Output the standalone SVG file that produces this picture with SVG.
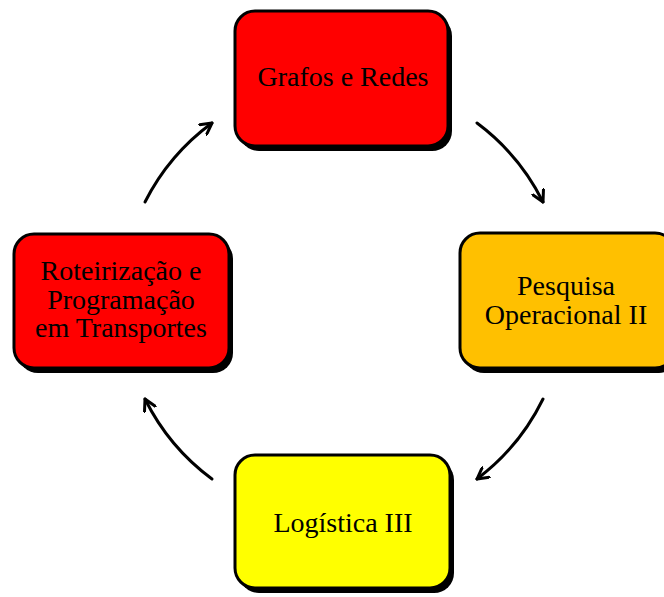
<svg xmlns="http://www.w3.org/2000/svg" width="664" height="597" viewBox="0 0 664 597">
  <style>
    .shadow { fill: #000; }
    .box { stroke: #000; stroke-width: 3; }
    .label { font-family: "Liberation Serif", "Times New Roman", serif; font-size: 28px; fill: #000; text-anchor: middle; }
    .arc { fill: none; stroke: #000; stroke-width: 3; stroke-linecap: round; }
  </style>
  <defs>
    <marker id="chevron" viewBox="0 0 14 14" refX="12" refY="7" markerWidth="14" markerHeight="14" markerUnits="userSpaceOnUse" orient="auto">
      <path d="M1,1 L12,7 L1,13" fill="none" stroke="#000" stroke-width="3" stroke-linecap="round" stroke-linejoin="round"/>
    </marker>
  </defs>

  <rect width="664" height="597" fill="#fff"/>

  <!-- connectors: arcs of one circle, running clockwise -->
  <g id="connectors">
    <path class="arc" d="M145,202 A222,222 0 0 1 212,123" marker-end="url(#chevron)"/>
    <path class="arc" d="M477,123 A222,222 0 0 1 543,202" marker-end="url(#chevron)"/>
    <path class="arc" d="M543,399 A222,222 0 0 1 477,479" marker-end="url(#chevron)"/>
    <path class="arc" d="M212,479 A222,222 0 0 1 145,399" marker-end="url(#chevron)"/>
  </g>

  <g id="grafos-redes">
    <rect class="shadow" x="239" y="16" width="213" height="135" rx="20"/>
    <rect class="box" x="235" y="11" width="213" height="135" rx="20" fill="#ff0000"/>
    <text class="label" x="343" y="86">Grafos e Redes</text>
  </g>

  <g id="pesquisa-operacional">
    <rect class="shadow" x="464" y="238" width="215" height="135" rx="20"/>
    <rect class="box" x="460" y="233" width="215" height="135" rx="20" fill="#ffc000"/>
    <text class="label" x="566" y="295">Pesquisa</text>
    <text class="label" x="566" y="324">Operacional II</text>
  </g>

  <g id="logistica">
    <rect class="shadow" x="239" y="460" width="215" height="133" rx="20"/>
    <rect class="box" x="235" y="455" width="215" height="133" rx="20" fill="#ffff00"/>
    <text class="label" x="343" y="532">Logística III</text>
  </g>

  <g id="roteirizacao">
    <rect class="shadow" x="18" y="239" width="215" height="134" rx="20"/>
    <rect class="box" x="14" y="234" width="215" height="134" rx="20" fill="#ff0000"/>
    <text class="label" x="121" y="280">Roteirização e</text>
    <text class="label" x="121" y="309">Programação</text>
    <text class="label" x="121" y="337">em Transportes</text>
  </g>
</svg>
